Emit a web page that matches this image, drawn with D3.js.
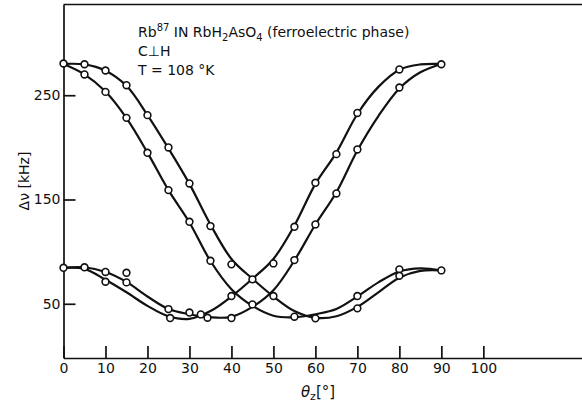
<!DOCTYPE html>
<html>
<head>
<meta charset="utf-8">
<script src="https://cdn.jsdelivr.net/npm/d3@7/dist/d3.min.js"></script>
<style>
    body { margin: 0; background: #fff; }
    svg text { font-family: "DejaVu Sans", sans-serif; fill: #111; }
</style>
</head>
<body>
<div id="chart"></div>
<script>
// angle grid of the drawn curves (degrees)
var angles = [0, 5, 10, 15, 20, 25, 30, 35, 40, 45, 50, 55, 60, 65, 70, 75, 80, 85, 90];
// four smooth curves (kHz)
var fallSlow = [280, 279.5, 273.5, 259, 231, 199, 165, 126, 93, 74, 57, 43, 36.5, 38, 47, 61, 75, 81.5, 82];
var fallFast = [280, 270, 253.5, 228, 195, 159, 128, 91, 64, 48, 38.5, 37, 40, 45, 57, 70.5, 81, 84, 82];
var riseEarly = [84.5, 83.5, 73, 61, 48, 38, 35.5, 43, 57, 74, 93, 125, 165, 195, 232, 258, 274.5, 279.5, 280];
var riseLate = [84.5, 85, 80.5, 71, 57, 45, 40, 37, 37.5, 47, 63, 91.5, 126, 157, 197, 230, 256.5, 272, 280];

// measured points (angle, splitting)
var pointsHigh = [[0, 280.4], [5, 279.7], [10, 273.7], [15, 259.6], [20, 230.9], [25, 199.9], [30, 165.4],
    [35, 124.5], [40, 87.8], [5, 269.9], [10, 253.2], [15, 228.3], [20, 194.8], [25, 159], [30, 128.6], [35, 91.2]];
var pointsCross = [[40, 57.4], [45, 73.4], [45, 49.4], [50, 88.7], [50, 57.4], [55, 123.8], [60, 166], [65, 193.5],
    [70, 233], [80, 274.7], [90, 279.7], [55, 91.9], [60, 126.1], [65, 155.8], [70, 198], [80, 257.4]];
var pointsLow = [[0, 84.5], [5, 85], [10, 80.5], [10, 71.1], [15, 79.7], [15, 70.5], [25, 44.9], [25.4, 36.3],
    [30, 41.6], [32.7, 39.8], [34.3, 36.6], [40, 36.3], [55, 37.6], [60, 36], [70, 57.4], [70, 45.6],
    [80, 83], [80, 76.9], [90, 82]];

var xTicks = [0, 10, 20, 30, 40, 50, 60, 70, 80, 90, 100];
var yTicks = [50, 150, 250];

var width = 582, height = 404;
var frame = { left: 63.5, top: 4.5, right: 582, bottom: 358 };

var svg = d3.select('#chart')
    .append('svg')
    .attr('width', width)
    .attr('height', height);

var xScale = d3.scaleLinear()
    .domain([0, 123.5])
    .range([frame.left, frame.right]);
var yScale = d3.scaleLinear()
    .domain([-2, 337])
    .range([frame.bottom, frame.top]);

// frame: top border
svg.append('line')
    .attr('x1', frame.left).attr('x2', frame.right)
    .attr('y1', frame.top).attr('y2', frame.top)
    .style('stroke', '#111')
    .style('stroke-width', 1.7);

var xAxis = svg.append('g')
    .attr('transform', 'translate(0,' + frame.bottom + ')')
    .call(d3.axisBottom(xScale).tickValues(xTicks).tickSizeInner(-12).tickSizeOuter(0).tickPadding(5));

var yAxis = svg.append('g')
    .attr('transform', 'translate(' + frame.left + ',0)')
    .call(d3.axisLeft(yScale).tickValues(yTicks).tickSizeInner(-12).tickSizeOuter(0).tickPadding(3));

svg.selectAll('.domain, .tick line')
    .style('stroke', '#111')
    .style('stroke-width', 1.7);
svg.selectAll('.tick text')
    .style('font-size', '14px')
    .style('fill', '#111');

// curves
var line = d3.line()
    .x(d => xScale(d[0]))
    .y(d => yScale(d[1]))
    .curve(d3.curveCatmullRom.alpha(0.5));

var curves = [fallSlow, fallFast, riseEarly, riseLate];
svg.append('g')
    .selectAll('path')
    .data(curves)
    .enter()
    .append('path')
    .attr('d', vals => line(angles.map((a, i) => [a, vals[i]])))
    .style('fill', 'none')
    .style('stroke', '#111')
    .style('stroke-width', 2.2);

// open circles
var allPoints = pointsHigh.concat(pointsCross, pointsLow);
svg.append('g')
    .selectAll('circle')
    .data(allPoints)
    .enter()
    .append('circle')
    .attr('cx', d => xScale(d[0]))
    .attr('cy', d => yScale(d[1]))
    .attr('r', 3.4)
    .style('fill', '#fff')
    .style('stroke', '#111')
    .style('stroke-width', 1.6);

// annotation
var note = svg.append('g').style('font-size', '14px');
var t1 = note.append('text').attr('x', 138).attr('y', 37);
t1.append('tspan').text('Rb');
t1.append('tspan').attr('dy', -6).style('font-size', '10px').text('87');
t1.append('tspan').attr('dy', 6).text(' IN  RbH');
t1.append('tspan').attr('dy', 4).style('font-size', '10px').text('2');
t1.append('tspan').attr('dy', -4).text('AsO');
t1.append('tspan').attr('dy', 4).style('font-size', '10px').text('4');
t1.append('tspan').attr('dy', -4).text(' (ferroelectric  phase)');
note.append('text').attr('x', 138).attr('y', 56).text('C\u22A5H');
note.append('text').attr('x', 138).attr('y', 75).text('T = 108 \u00B0K');

// axis titles
var xt = svg.append('text')
    .attr('x', 318)
    .attr('y', 397)
    .style('text-anchor', 'middle')
    .style('font-size', '15px');
xt.append('tspan').style('font-style', 'italic').text('\u03B8');
xt.append('tspan').attr('dy', 3).style('font-size', '11px').text('z');
xt.append('tspan').attr('dy', -3).text('[\u00B0]');

svg.append('text')
    .attr('transform', 'translate(29,181) rotate(-90)')
    .style('text-anchor', 'middle')
    .style('font-size', '14px')
    .text('\u0394\u03BD  [kHz]');
</script>
</body>
</html>
